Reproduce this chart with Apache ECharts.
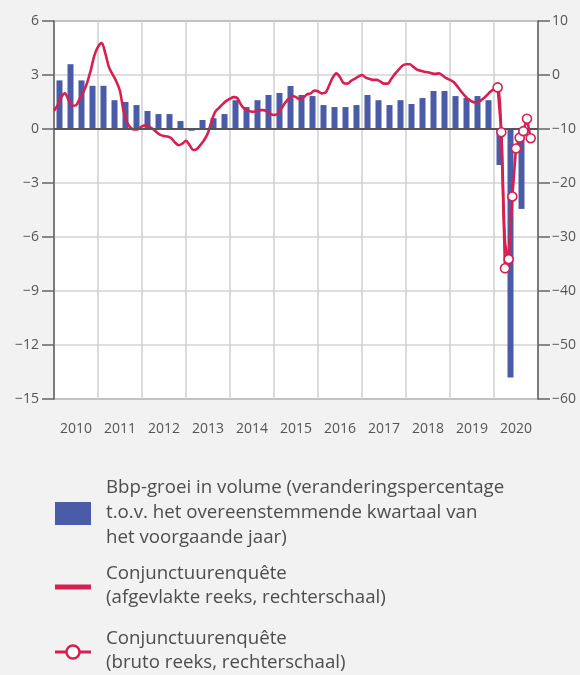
<!DOCTYPE html>
<html>
<head>
<meta charset="utf-8">
<script src="https://cdn.jsdelivr.net/npm/echarts@6/dist/echarts.min.js"></script>
<style>
html,body{margin:0;padding:0;background:#f2f2f2;}
#chart{width:580px;height:675px;}
</style>
</head>
<body>
<div id="chart"></div>
<script>
// Year labels (x axis)
const years = ['2010','2011','2012','2013','2014','2015','2016','2017','2018','2019','2020'];

// GDP growth in volume, quarterly from 2010Q1 (left scale)
const gdpGrowth = [
  2.7, 3.6, 2.7, 2.4,
  2.4, 1.6, 1.5, 1.33,
  1.0, 0.83, 0.83, 0.44,
  -0.1, 0.5, 0.6, 0.83,
  1.6, 1.22, 1.6, 1.89,
  2.0, 2.39, 1.89, 1.83,
  1.33, 1.22, 1.22, 1.33,
  1.89, 1.6, 1.33, 1.6,
  1.39, 1.72, 2.11, 2.11,
  1.83, 1.72, 1.83, 1.6,
  -2.0, -13.8, -4.44
];

// Business survey, smoothed series, monthly from 2010-01 (right scale)
const surveySmoothed = [
  -6.6, -5.6, -4.1, -3.4, -4.7, -5.7, -5.6, -4.4, -3.2, -1.5, 0.8, 3.6,
  5.2, 5.9, 4.0, 1.4, 0.1, -1.2, -3.0, -6.8, -8.9, -9.8, -10.1, -10.0,
  -9.5, -9.3, -9.6, -10.0, -10.6, -11.1, -11.3, -11.4, -11.7, -12.5, -13.0, -12.7,
  -12.2, -13.0, -13.9, -13.7, -12.9, -12.0, -10.7, -8.5, -6.8, -6.1, -5.4, -4.8,
  -4.4, -4.1, -4.3, -5.5, -6.3, -6.6, -6.8, -6.7, -6.5, -6.5, -6.7, -7.2,
  -7.4, -7.2, -6.2, -5.2, -4.4, -3.9, -4.1, -4.5, -4.2, -3.6, -3.4, -2.9,
  -3.0, -3.4, -3.3, -2.0, -0.5, 0.3, -0.4, -1.5, -1.6, -1.1, -0.7, -0.3,
  0.0, -0.5, -0.7, -0.9, -0.9, -1.2, -1.6, -1.6, -0.7, 0.2, 1.0, 1.7,
  2.0, 2.0, 1.5, 1.0, 0.8, 0.6, 0.5, 0.3, 0.2, 0.3, -0.1, -0.6,
  -0.9, -1.3, -2.1, -3.0, -3.8, -4.5, -4.9, -5.1, -4.9, -4.4, -3.8, -3.1,
  -2.6, -2.3, -10.6, -31.0, -34.1
];

// Business survey, raw series, monthly from 2020-02 (right scale)
const rawStart = 121; // month index of 2020-02 counted from 2010-01
const surveyRaw = [-2.3, -10.6, -35.8, -34.1, -22.5, -13.6, -11.6, -10.4, -8.1, -11.7];

const leftTicks = [6, 3, 0, -3, -6, -9, -12, -15];
const rightTicks = [10, 0, -10, -20, -30, -40, -50, -60];

const barColor = '#4a5ba7';
const red = '#d81f52';
const txt = '#555555';
const font = 'Open Sans';

const minus = v => String(v).replace('-', '\u2212');

const barData = gdpGrowth.map((v, i) => [i * 3 + 1.5, v]);
const smoothData = surveySmoothed.map((v, i) => [i, v]);
const rawData = surveyRaw.map((v, i) => [rawStart + i, v]);

const legendFont = '18.7px "Open Sans"';

const chart = echarts.init(document.getElementById('chart'));
chart.setOption({
  backgroundColor: '#f2f2f2',
  animation: false,
  textStyle: { fontFamily: font },
  grid: {
    left: 54, right: 42, top: 21, bottom: 276,
    show: true, backgroundColor: '#ffffff', borderColor: '#666666', borderWidth: 1.5
  },
  xAxis: [
    {
      type: 'category', data: years, boundaryGap: true, position: 'bottom',
      axisLine: { show: false }, axisTick: { show: false },
      axisLabel: { color: txt, fontSize: 14, margin: 23, fontFamily: font },
      splitLine: { show: true, lineStyle: { color: '#cfcfcf', width: 1.5 } }
    },
    {
      type: 'value', min: 0, max: 132, show: false,
      splitLine: { show: false }
    }
  ],
  yAxis: [
    {
      type: 'value', min: -15, max: 6, interval: 3, position: 'left',
      axisLine: { show: true, lineStyle: { color: '#666666', width: 1.5 } },
      axisTick: { show: true, inside: false, length: 12, lineStyle: { color: '#666666', width: 1.5 } },
      axisLabel: { color: txt, fontSize: 14, margin: 15, formatter: v => minus(v), fontFamily: font },
      splitLine: { show: true, lineStyle: { color: '#d4d4d4', width: 1.5 } }
    },
    {
      type: 'value', min: -60, max: 10, interval: 10, position: 'right',
      axisLine: { show: true, lineStyle: { color: '#666666', width: 1.5 } },
      axisTick: { show: true, inside: false, length: 12, lineStyle: { color: '#666666', width: 1.5 } },
      axisLabel: { color: txt, fontSize: 14, margin: 14, formatter: v => minus(v), fontFamily: font },
      splitLine: { show: false }
    }
  ],
  series: [
    {
      type: 'bar', name: 'Bbp-groei', xAxisIndex: 1, yAxisIndex: 0,
      data: barData, barWidth: 6, itemStyle: { color: barColor },
      markLine: {
        silent: true, symbol: 'none', label: { show: false },
        lineStyle: { color: '#555555', width: 2, type: 'solid' },
        data: [{ yAxis: 0 }]
      }
    },
    {
      type: 'line', name: 'afgevlakt', xAxisIndex: 1, yAxisIndex: 1,
      data: smoothData, showSymbol: false, smooth: 0.3,
      lineStyle: { color: red, width: 2.6 }, itemStyle: { color: red }
    },
    {
      type: 'line', name: 'bruto', xAxisIndex: 1, yAxisIndex: 1,
      data: rawData, symbol: 'circle', symbolSize: 9, showSymbol: true,
      lineStyle: { color: red, width: 2.6 },
      itemStyle: { color: '#ffffff', borderColor: red, borderWidth: 1.6 },
      z: 5
    }
  ],
  graphic: [
    { type: 'rect', shape: { x: 55, y: 502, width: 36, height: 23 }, style: { fill: barColor } },
    { type: 'text', left: 106, top: 475, style: {
        text: 'Bbp-groei in volume (veranderingspercentage\nt.o.v. het overeenstemmende kwartaal van\nhet voorgaande jaar)',
        fill: '#4d4d4d', font: legendFont, lineHeight: 25 } },
    { type: 'line', shape: { x1: 55, y1: 587, x2: 91, y2: 587 }, style: { stroke: red, lineWidth: 5 } },
    { type: 'text', left: 106, top: 562, style: {
        text: 'Conjunctuurenquête\n(afgevlakte reeks, rechterschaal)',
        fill: '#4d4d4d', font: legendFont, lineHeight: 24 } },
    { type: 'line', shape: { x1: 55, y1: 652, x2: 91, y2: 652 }, style: { stroke: red, lineWidth: 3 } },
    { type: 'circle', shape: { cx: 73, cy: 652, r: 6.5 }, style: { fill: '#ffffff', stroke: red, lineWidth: 2.5 } },
    { type: 'text', left: 106, top: 627, style: {
        text: 'Conjunctuurenquête\n(bruto reeks, rechterschaal)',
        fill: '#4d4d4d', font: legendFont, lineHeight: 24 } }
  ]
});
</script>
</body>
</html>
